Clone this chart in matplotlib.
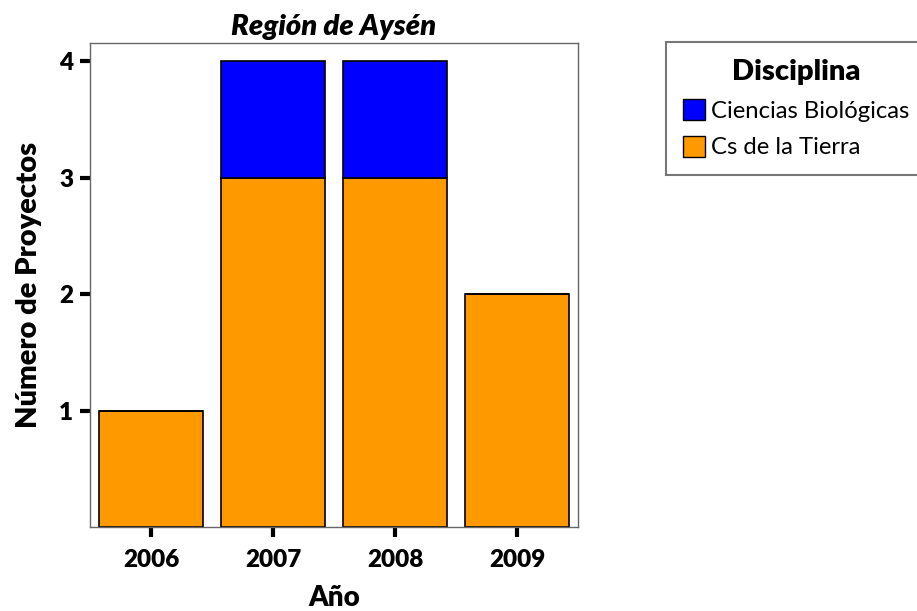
import numpy as np
import matplotlib.pyplot as plt
from matplotlib.patches import Patch

# Data
years = ['2006', '2007', '2008', '2009']
cs_tierra = [1, 3, 3, 2]
ciencias_bio = [0, 1, 1, 0]

orange = '#FF9900'
blue = '#0000FF'

plt.rcParams['font.family'] = ['Lato', 'DejaVu Sans']

fig = plt.figure(figsize=(9.17, 6.11), dpi=100)
ax = fig.add_axes([0.0981, 0.1375, 0.5322, 0.7921])

x = np.arange(len(years))
ax.bar(x, cs_tierra, width=0.85, color=orange, edgecolor='black', linewidth=1.2)
ax.bar(x, ciencias_bio, width=0.85, bottom=cs_tierra, color=blue,
       edgecolor='black', linewidth=1.2)

ax.set_xlim(-0.5, 3.5)
ax.set_ylim(0, 4.157)
ax.set_xticks(x)
ax.set_xticklabels(years, fontsize=17.5, fontweight='heavy')
ax.set_yticks([1, 2, 3, 4])
ax.set_yticklabels(['1', '2', '3', '4'], fontsize=17.5, fontweight='heavy')
ax.tick_params(axis='x', length=7, width=3, color='black', pad=9)
ax.tick_params(axis='y', length=7, width=3, color='black', pad=5)

for s in ax.spines.values():
    s.set_color('#666666')
    s.set_linewidth(1)

ax.set_xlabel('Año', fontsize=20, fontweight='heavy', labelpad=10)
ax.set_ylabel('Número de Proyectos', fontsize=21, fontweight='heavy', labelpad=12)
ax.set_title('Región de Aysén', fontsize=21, fontweight='heavy', style='italic', pad=6)

handles = [Patch(facecolor=blue, edgecolor='black'),
           Patch(facecolor=orange, edgecolor='black')]
leg = fig.legend(handles, ['Ciencias Biológicas', 'Cs de la Tierra'],
                 title='Disciplina', loc='upper left',
                 bbox_to_anchor=(666 / 917, 1 - 42 / 611),
                 fontsize=17.2, title_fontproperties={'weight': 'heavy', 'size': 21},
                 frameon=True, fancybox=False, edgecolor='#555555',
                 handlelength=0.95, handleheight=0.95, handletextpad=0.25,
                 labelspacing=0.6, borderpad=0.7, borderaxespad=0)
leg._legend_box.align = 'center'
leg.get_frame().set_linewidth(1.5)

fig.savefig('out.png', dpi=100)
